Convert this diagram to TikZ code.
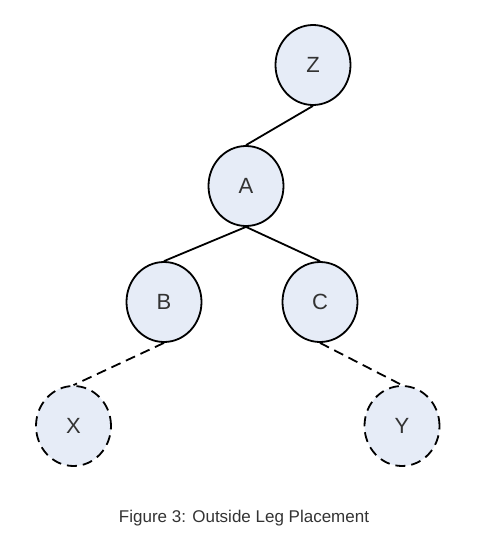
\documentclass[tikz,border=0pt]{standalone}
\usepackage{fontspec}
\setmainfont{Liberation Sans}
\usetikzlibrary{shapes.geometric}
\definecolor{nodefill}{HTML}{E6ECF7}
\definecolor{txt}{HTML}{333333}
\tikzset{
  treenode/.style={ellipse, draw=black, line width=1.8pt, fill=nodefill,
    minimum width=75pt, minimum height=80pt, inner sep=0pt,
    text=txt, font=\fontsize{22}{24}\selectfont},
  ghost/.style={treenode, dash pattern=on 10pt off 6pt},
  edge/.style={line width=1.8pt, black},
  dashedge/.style={edge, dash pattern=on 10pt off 6pt}
}
\begin{document}
\begin{tikzpicture}[x=1pt,y=-1pt]
\useasboundingbox (0,0) rectangle (480,555);
\node[treenode] (Z) at (313,65) {Z};
\node[treenode] (A) at (246,186) {A};
\node[treenode] (B) at (164,302) {B};
\node[treenode] (C) at (320,302) {C};
\node[ghost] (X) at (73.5,426) {X};
\node[ghost] (Y) at (402,426) {Y};
\draw[edge] (Z.south) -- (A.north);
\draw[edge] (A.south) -- (B.north);
\draw[edge] (A.south) -- (C.north);
\draw[dashedge] (B.south) -- (X.north);
\draw[dashedge] (C.south) -- (Y.north);
\node[text=txt, font=\fontsize{17}{19}\selectfont] (cap) at (244,518) {Figure 3: Outside Leg Placement};
\end{tikzpicture}
\end{document}
